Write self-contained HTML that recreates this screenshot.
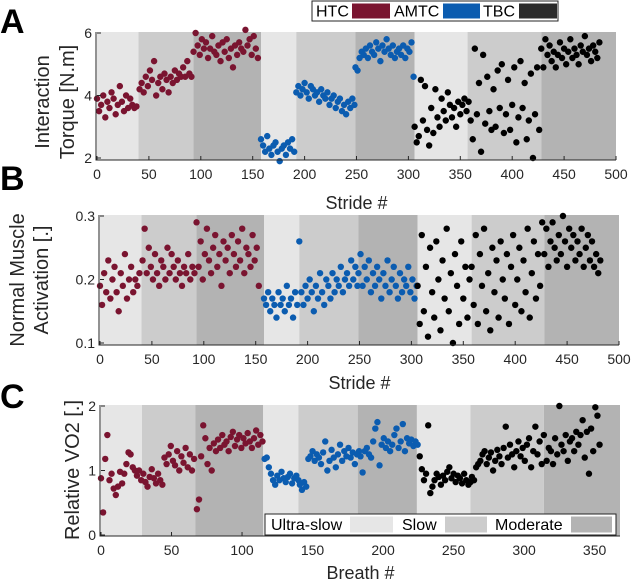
<!DOCTYPE html>
<html><head><meta charset="utf-8"><style>
html,body{margin:0;padding:0;background:#fff;}
svg{display:block;font-family:"Liberation Sans",sans-serif;}
</style></head><body>
<svg id="fig" width="632" height="582" viewBox="0 0 632 582">
<g id="root"></g>
</svg>
<script>
// ---------- Data (segment values, one point every `step` units starting at `start`) ----------
const bandColors = ["#e6e6e6","#cccccc","#b3b3b3"];
const bandsA = [0,40,93,158,192,249,306,357,428,500];
const bandsB = [0,40,93,158,192,249,306,358,428,500];
const bandsC = [0,29,67,115,140,182,224,262,314,368];
const ticksA_x = [0,50,100,150,200,250,300,350,400,450,500];
const ticksA_y = [2,4,6];
const ticksB_y = [0.1,0.2,0.3];
const ticksC_x = [0,50,100,150,200,250,300,350];
const ticksC_y = [0,1,2];

const A_HTC = [
 {start:0,step:2,vals:[3.9,3.5,3.7,4.0,3.3,3.8,3.6,4.1,3.9,3.4,3.7,4.3,3.8,3.5,4.0,3.6,3.9,3.7,3.6,3.65]},
 {start:41,step:2,vals:[4.2,4.4,4.1,4.6,4.3,4.8,4.5,5.1,4.0,4.4,4.6,4.2,4.7,4.5,4.1,4.6,4.4,4.8,4.5,4.7,4.6,4.9,4.6,5.1,4.7,4.6]},
 {start:93,step:2,vals:[5.4,6.0,5.6,5.3,5.8,5.5,5.7,5.2,5.5,5.9,5.4,5.3,5.6,5.1,5.7,5.4,5.8,5.2,5.5,4.9,5.6,5.3,5.7,5.5,5.4,6.1,5.6,5.8,5.3,5.9,5.5,5.2]}];
const A_AMTC = [
 {start:158,step:2,vals:[2.6,2.4,2.2,2.7,2.3,2.1,2.4,2.5,2.2,1.9,2.3,2.4,2.1,2.5,2.3,2.6,2.2]},
 {start:192,step:2,vals:[4.1,4.3,4.0,4.2,4.4,4.1,3.9,4.3,4.2,4.0,4.1,3.8,4.2,4.0,3.9,4.1,3.7,3.9,4.0,3.6,3.8,3.9,3.5,3.7,3.4,3.8,3.6,3.9,3.7]},
 {start:249,step:2,vals:[4.9,4.8,5.2,5.4,5.3,5.5,5.2,5.6,5.4,5.3,5.7,5.5,5.1,5.6,5.4,5.8,5.5,5.3,5.6,5.2,5.4,5.5,5.3,5.6,5.2,5.5,5.4,5.7,4.6]}];
const A_TBC = [
 {start:306,step:2,vals:[3.0,2.5,2.7,4.5,3.2,4.3,2.9,2.4,3.6,2.8,4.2,3.3,3.0,3.9,3.5,3.2,4.1,3.7,3.3,3.6,3.0,3.8,3.4,3.7,3.9,3.5]},
 {start:358,step:2,vals:[3.8,3.2,2.6,5.5,3.4,4.4,2.2,5.3,3.1,4.6,3.5,2.9,4.2,3.0,4.8,3.6,5.0,2.8,3.4,4.5,2.9,3.7,4.9,2.5,3.3,5.1,3.6,4.4,2.6,3.2,4.7,2.0,3.4,4.9,2.9]},
 {start:428,step:2,vals:[5.5,4.9,5.8,5.3,5.6,5.1,5.4,4.9,5.3,5.7,5.2,5.5,5.0,5.4,5.8,5.2,5.5,5.3,5.0,5.6,5.4,5.9,5.3,5.5,5.1,5.6,5.4,5.2,5.7]}];

const B_HTC = [
 {start:0,step:2,vals:[.19,.16,.21,.18,.23,.17,.20,.22,.18,.15,.21,.19,.24,.17,.20,.22,.18,.20,.19,.21]},
 {start:41,step:2,vals:[.23,.28,.21,.25,.22,.20,.24,.21,.19,.23,.22,.20,.25,.21,.24,.22,.20,.23,.21,.19,.22,.21,.24,.20,.22,.21]},
 {start:93,step:2,vals:[.29,.22,.26,.20,.24,.28,.23,.21,.25,.27,.22,.24,.19,.26,.23,.25,.21,.27,.24,.22,.26,.23,.28,.21,.25,.24,.22,.27,.23,.25,.19]}];
const B_AMTC = [
 {start:158,step:2,vals:[.17,.16,.18,.15,.17,.16,.14,.18,.16,.17,.15,.19,.16,.17,.14,.18,.16]},
 {start:192,step:2,vals:[.26,.18,.16,.19,.17,.20,.18,.15,.19,.17,.21,.18,.16,.20,.19,.17,.21,.18,.20,.19,.22,.18,.20,.21,.19,.23,.20,.22,.19]},
 {start:249,step:2,vals:[.21,.24,.19,.22,.20,.23,.18,.21,.19,.22,.20,.17,.21,.19,.23,.18,.20,.22,.19,.17,.21,.18,.20,.19,.22,.18,.20,.17,.19]}];
const B_TBC = [
 {start:306,step:2,vals:[.19,.13,.27,.15,.22,.11,.25,.18,.14,.26,.20,.12,.23,.17,.28,.15,.21,.10,.24,.19,.13,.26,.17,.22,.14,.20]},
 {start:358,step:2,vals:[.22,.16,.27,.13,.24,.19,.28,.15,.21,.12,.25,.18,.23,.14,.26,.20,.17,.24,.13,.22,.27,.16,.20,.25,.15,.23,.18,.28,.14,.21,.26,.17,.24,.19,.29]},
 {start:428,step:2,vals:[.24,.28,.22,.26,.29,.25,.23,.27,.24,.30,.26,.22,.28,.25,.27,.23,.26,.24,.28,.22,.25,.27,.23,.26,.22,.24,.21,.23]}];

const C_HTC = [
 {start:0,step:1.5,vals:[.88,.35,1.18,1.55,.85,.95,.72,.62,.75,.98,.8,.95,1.1,1.28,1.25,1.05,1.0,.92,1.0,.85]},
 {start:30,step:1.5,vals:[.95,.82,.75,.9,1.02,.88,.8,.95,.85,.78,1.2,1.1,1.25,1.38,1.15,1.08,1.3,1.0,1.22,1.12,1.35,1.05,1.25,1.0,1.18]},
 {start:68,step:1.5,vals:[.4,.55,1.22,1.7,1.5,1.1,1.35,1.0,1.42,1.3,1.48,1.35,1.55,1.4,1.45,1.3,1.52,1.6,1.38,1.48,1.55,1.35,1.5,1.42,1.58,1.45,1.35,1.5,1.62,1.4,1.55,1.45]}];
const C_AMTC = [
 {start:116,step:1.5,vals:[1.18,1.2,1.05,.95,.85,.78,.92,.85,.98,.88,.82,.9,.95,.8,.88,.92,.85]},
 {start:141,step:1.5,vals:[.78,.7,.82,.75,1.18,1.22,1.3,1.15,1.25,1.2,1.1,1.28,1.45,1.0,1.15,1.32,1.2,1.05,1.25,1.4,1.15,1.3,1.22,1.35,1.2,1.28,1.1,1.25,1.3]},
 {start:184,step:1.5,vals:[1.22,.97,1.3,1.35,1.25,1.2,1.45,1.65,1.75,1.08,1.4,1.5,1.35,1.45,1.3,1.4,1.55,1.65,1.35,1.45,1.72,1.3,1.5,1.42,1.48,1.38,1.45,1.4]}];
const C_TBC = [
 {start:226,step:1.5,vals:[1.22,1.02,.85,.95,1.7,.65,.75,.85,.95,.9,.78,.92,.85,.98,1.05,.88,.95,.82,.92,.88,.8,.95,.85,.78,.82]},
 {start:263,step:1.5,vals:[.9,.85,1.05,1.1,1.15,1.25,1.3,1.1,1.2,1.28,1.0,1.15,1.32,1.22,1.1,1.35,1.68,1.2,1.4,1.25,1.05,1.3,1.45,1.22,1.35,1.15,1.4,1.5,1.05,1.3,1.68,1.25,1.45,1.1,1.55]},
 {start:316,step:1.5,vals:[1.15,1.35,1.3,1.1,1.5,1.25,2.0,1.4,1.3,1.55,1.15,1.45,1.5,1.3,1.6,1.4,1.55,1.78,1.2,1.6,.95,1.65,1.3,1.98,1.85,1.4]}];

// ---------- Drawing ----------
const NS = "http://www.w3.org/2000/svg";
const root = document.getElementById("root");
function mk(tag, attrs, parent){
  const e = document.createElementNS(NS, tag);
  for (const k in attrs) e.setAttribute(k, attrs[k]);
  (parent||root).appendChild(e);
  return e;
}
const colors = {HTC:"#7a1430", AMTC:"#0b5cb0", TBC:"#000000"};

function panel(cfg){
  const g = mk("g",{});
  
  
  const sx = v => cfg.x0 + (v - cfg.xmin)/(cfg.xmax - cfg.xmin)*(cfg.x1 - cfg.x0);
  const sy = v => cfg.yb + (v - cfg.ymin)/(cfg.ymax - cfg.ymin)*(cfg.yt - cfg.yb);
  for (let i=0;i<cfg.bands.length-1;i++){
    const r = mk("rect",{x:sx(cfg.bands[i]), y:cfg.top, width:sx(cfg.bands[i+1])-sx(cfg.bands[i]), height:cfg.bot-cfg.top, fill:bandColors[i%3]}, g);
    
    
  }
  [["HTC",cfg.HTC],["AMTC",cfg.AMTC],["TBC",cfg.TBC]].forEach(([k,segs])=>{
    segs.forEach(seg=>{
      seg.vals.forEach((v,i)=>{
        const c = mk("circle",{cx:sx(seg.start+i*seg.step), cy:sy(v), r:3.2, fill:colors[k]}, g);
        
        
      });
    });
  });
  const ax = mk("path",{d:`M${cfg.x0-1},${cfg.top} V${cfg.bot} H${cfg.x1}`, stroke:"#262626", "stroke-width":1, fill:"none"}, g);
  
  
  cfg.xt.forEach(t=>{
    mk("line",{x1:sx(t),x2:sx(t),y1:cfg.bot,y2:cfg.bot-4,stroke:"#262626"},g);
    const tx = mk("text",{x:sx(t), y:cfg.bot+19, "text-anchor":"middle", "font-size":14, fill:"#262626"}, g);
    tx.textContent = t;
    
    
  });
  cfg.yt_.forEach(t=>{
    mk("line",{x1:cfg.x0,x2:cfg.x0+4,y1:sy(t),y2:sy(t),stroke:"#262626"},g);
    const tx = mk("text",{x:cfg.x0-5, y:sy(t)+5, "text-anchor":"end", "font-size":14, fill:"#262626"}, g);
    tx.textContent = t;
    
    
  });
  const xl = mk("text",{x:(cfg.x0+cfg.x1)/2, y:cfg.xlabY, "text-anchor":"middle", "font-size":18, fill:"#262626"}, g);
  xl.textContent = cfg.xlab;
  
  
  cfg.ylab.forEach((s,i)=>{
    const x = cfg.ylabX[i];
    const t = mk("text",{x:x, y:cfg.ylabCY, "text-anchor":"middle", "font-size":20, fill:"#262626", transform:`rotate(-90 ${x} ${cfg.ylabCY})`, "dominant-baseline":"central"}, g);
    t.textContent = s;
    
    
  });
  const L = mk("text",{x:0, y:cfg.letterY, "font-size":34, "font-weight":"bold", fill:"#000"}, g);
  L.textContent = cfg.letter;
  
  
}

panel({name:"panel-a-torque", x0:97,x1:616,xmin:0,xmax:500,yt:33,yb:158,ymin:2,ymax:6,top:32,bot:160,
  bands:bandsA,HTC:A_HTC,AMTC:A_AMTC,TBC:A_TBC,xt:ticksA_x,yt_:ticksA_y,xlab:"Stride #",xlabY:209,
  ylab:["Interaction","Torque [N.m]"],ylabX:[43,68],ylabCY:102,letter:"A",letterY:33});
panel({name:"panel-b-muscle", x0:100,x1:619,xmin:0,xmax:500,yt:216,yb:343,ymin:0.1,ymax:0.3,top:215,bot:345,
  bands:bandsB,HTC:B_HTC,AMTC:B_AMTC,TBC:B_TBC,xt:ticksA_x,yt_:ticksB_y,xlab:"Stride #",xlabY:389,
  ylab:["Normal Muscle","Activation [.]"],ylabX:[18,42],ylabCY:280,letter:"B",letterY:190});
panel({name:"panel-c-vo2", x0:101,x1:620,xmin:0,xmax:368,yt:406,yb:535,ymin:0,ymax:2,top:405,bot:536,
  bands:bandsC,HTC:C_HTC,AMTC:C_AMTC,TBC:C_TBC,xt:ticksC_x,yt_:ticksC_y,xlab:"Breath #",xlabY:579,
  ylab:["Relative VO2 [.]"],ylabX:[73],ylabCY:470,letter:"C",letterY:408});

function legend(name, x,y,w,h, items){
  const g = mk("g",{});
  
  
  mk("rect",{x:x,y:y,width:w,height:h,fill:"#fff",stroke:"#262626","stroke-width":1},g);
  items.forEach(it=>{
    const t = mk("text",{x:it.tx,y:y+h/2+5.5,"font-size":16,fill:"#000"},g);
    t.textContent = it.label;
    
    
    const r = mk("rect",{x:it.sx,y:y+2.5,width:it.sw,height:h-5,fill:it.fill},g);
    
    
  });
}
legend("series-legend",312,1,246,20,[
  {label:"HTC",tx:316,sx:352,sw:38,fill:colors.HTC},
  {label:"AMTC",tx:394,sx:443,sw:37,fill:colors.AMTC},
  {label:"TBC",tx:483,sx:519,sw:38,fill:"#2a2a2a"}]);
legend("speed-legend",265,514,351,21,[
  {label:"Ultra-slow",tx:271,sx:350,sw:43,fill:bandColors[0]},
  {label:"Slow",tx:402,sx:445,sw:42,fill:bandColors[1]},
  {label:"Moderate",tx:495,sx:571,sw:41,fill:bandColors[2]}]);
</script>
</body></html>
